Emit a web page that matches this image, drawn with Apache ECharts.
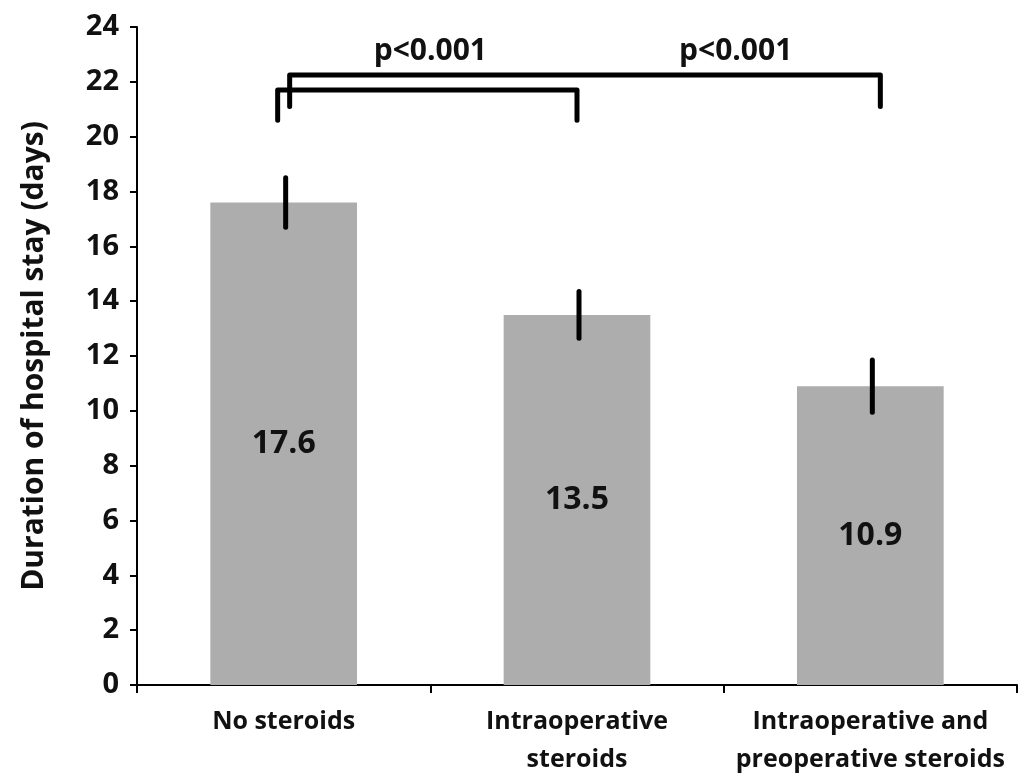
<!DOCTYPE html>
<html>
<head>
<meta charset="utf-8">
<script src="https://cdn.jsdelivr.net/npm/echarts@6/dist/echarts.min.js"></script>
<style>
  html, body { margin: 0; padding: 0; background: #fff; }
  #chart { width: 1029px; height: 783px; }
</style>
</head>
<body>
<div id="chart"></div>
<script type="text/javascript">
    // data
    var categories = ['No steroids', 'Intraoperative\nsteroids', 'Intraoperative and\npreoperative steroids'];
    var means = [17.6, 13.5, 10.9];
    var errors = [0.9, 0.85, 0.95];
    // [from category, to category, bar height, end height]
    var brackets = [[0, 1, 21.7, 20.6], [0, 2, 22.25, 21.1]];
    // [from category, to category, height]
    var pLabels = [[0, 1, 23.1, 'p<0.001'], [1, 2, 23.1, 'p<0.001']];
    var yTicks = [0, 24, 2];

    var myChart = echarts.init(document.getElementById('chart'));

    var errData = means.map(function (m, i) {
        return [i, m - errors[i], m + errors[i]];
    });

    var font = '"Open Sans", Lato, sans-serif';

    var option = {
        animation: false,
        grid: { left: 137, right: 12, top: 27, bottom: 98 },
        xAxis: {
            type: 'category',
            data: categories,
            boundaryGap: true,
            axisLine: { lineStyle: { color: '#000', width: 2 } },
            axisTick: { show: true, length: 8, lineStyle: { color: '#000', width: 2 } },
            axisLabel: {
                color: '#111', fontFamily: font, fontWeight: 'bold', fontSize: 25,
                lineHeight: 38, margin: 18, interval: 0
            }
        },
        yAxis: {
            type: 'value',
            min: yTicks[0], max: yTicks[1], interval: yTicks[2],
            name: 'Duration of hospital stay (days)',
            nameLocation: 'middle',
            nameGap: 88,
            nameTextStyle: { color: '#111', fontFamily: font, fontWeight: 'bold', fontSize: 30 },
            axisLine: { show: true, lineStyle: { color: '#000', width: 2 } },
            axisTick: { show: true, length: 7, lineStyle: { color: '#000', width: 2 } },
            splitLine: { show: false },
            axisLabel: { color: '#111', fontFamily: font, fontWeight: 'bold', fontSize: 29, margin: 18 }
        },
        series: [
            {
                type: 'bar',
                data: means,
                barWidth: '50%',
                itemStyle: { color: '#adadad' },
                label: {
                    show: true, position: 'inside', color: '#111',
                    fontFamily: font, fontWeight: 'bold', fontSize: 32
                }
            },
            {
                // error bars
                type: 'custom',
                data: errData,
                encode: { x: 0, y: [1, 2] },
                z: 5,
                renderItem: function (params, api) {
                    var lo = api.coord([api.value(0), api.value(1)]);
                    var hi = api.coord([api.value(0), api.value(2)]);
                    return {
                        type: 'line',
                        shape: { x1: lo[0] + 2, y1: lo[1], x2: hi[0] + 2, y2: hi[1] },
                        style: { stroke: '#000', lineWidth: 5, lineCap: 'round' }
                    };
                }
            },
            {
                // significance brackets
                type: 'custom',
                data: brackets,
                encode: { x: 0, y: 2 },
                z: 5,
                renderItem: function (params, api) {
                    var nudge = params.dataIndex === 0 ? [-6, 0] : [6, 10];
                    var a = api.coord([api.value(0), api.value(2)]);
                    var b = api.coord([api.value(1), api.value(2)]);
                    var e = api.coord([api.value(0), api.value(3)]);
                    var x1 = a[0] + nudge[0], x2 = b[0] + nudge[1];
                    return {
                        type: 'polyline',
                        shape: { points: [[x1, e[1]], [x1, a[1]], [x2, a[1]], [x2, e[1]]] },
                        style: { stroke: '#000', lineWidth: 5, fill: null, lineJoin: 'round', lineCap: 'round' }
                    };
                }
            },
            {
                type: 'custom',
                data: pLabels,
                encode: { x: 0, y: 2 },
                z: 5,
                renderItem: function (params, api) {
                    var a = api.coord([api.value(0), api.value(2)]);
                    var b = api.coord([api.value(1), api.value(2)]);
                    return {
                        type: 'text',
                        x: (a[0] + b[0]) / 2 + (params.dataIndex === 1 ? 12 : 0),
                        y: a[1],
                        style: {
                            text: pLabels[params.dataIndex][3],
                            fill: '#111', font: 'bold 30px ' + font,
                            align: 'center', verticalAlign: 'middle'
                        }
                    };
                }
            }
        ]
    };

    myChart.setOption(option);
</script>
</body>
</html>
